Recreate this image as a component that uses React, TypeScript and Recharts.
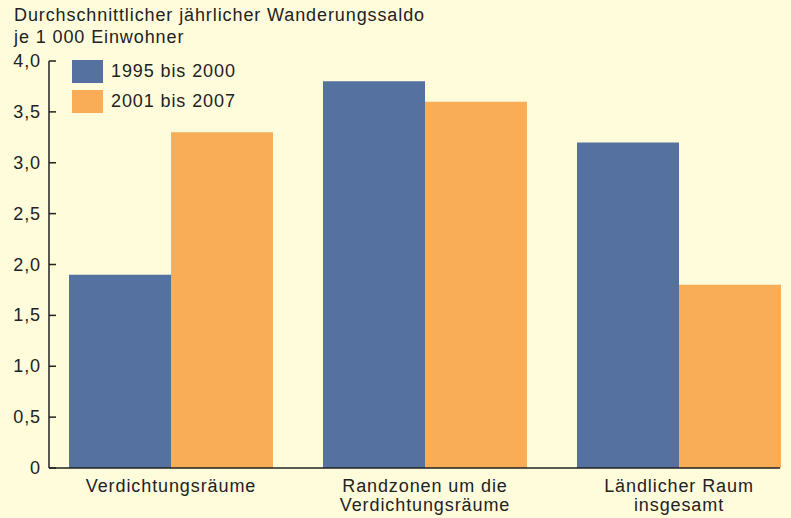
import { BarChart, Bar, XAxis, YAxis } from 'recharts';

const categories = [
  ['Verdichtungsräume'],
  ['Randzonen um die', 'Verdichtungsräume'],
  ['Ländlicher Raum', 'insgesamt'],
];
const period1 = [1.9, 3.8, 3.2];
const period2 = [3.3, 3.6, 1.8];
const yTicks = [0, 0.5, 1, 1.5, 2, 2.5, 3, 3.5, 4];
const seriesNames = ['1995 bis 2000', '2001 bis 2007'];

const BLUE = '#55719f';
const ORANGE = '#f9ad56';
const BG = '#fffcdc';
const INK = '#222222';
const FONT = '"Liberation Sans", Arial, sans-serif';
const FS = 18;
const LS = 0.9;

const data = categories.map((lines, i) => ({
  name: lines.join(' '),
  lines,
  a: period1[i],
  b: period2[i],
}));

function fmt(v: number) {
  return v === 0 ? '0' : v.toFixed(1).replace('.', ',');
}

const YTick = (props: any) => {
  const { x, y, payload } = props;
  return (
    <g>
      <line x1={x} x2={x + 7} y1={y} y2={y} stroke={INK} strokeWidth={1.5} />
      <text
        x={x - 8}
        y={y}
        dy={6}
        textAnchor="end"
        fontSize={FS}
        letterSpacing={LS}
        fill={INK}
        fontFamily={FONT}
      >
        {fmt(payload.value)}
      </text>
    </g>
  );
};

const XTick = (props: any) => {
  const { x, y, index } = props;
  const lines = categories[index] ?? [];
  return (
    <text x={x} y={y} textAnchor="middle" fontSize={FS} letterSpacing={LS} fill={INK} fontFamily={FONT}>
      {lines.map((l, i) => (
        <tspan key={i} x={x} dy={i === 0 ? 16 : 19}>
          {l}
        </tspan>
      ))}
    </text>
  );
};

export default function App() {
  return (
    <div
      style={{
        position: 'fixed',
        left: 0,
        top: 0,
        width: 791,
        height: 518,
        background: BG,
        fontFamily: FONT,
        color: INK,
      }}
    >
      <div
        style={{
          position: 'absolute',
          left: 14,
          top: 4,
          fontSize: FS,
          letterSpacing: LS,
          lineHeight: '22px',
        }}
      >
        Durchschnittlicher jährlicher Wanderungssaldo
        <br />
        je 1 000 Einwohner
      </div>
      <BarChart
        width={791}
        height={518}
        data={data}
        margin={{ top: 61, right: 11, left: 0, bottom: 0 }}
        barCategoryGap={25}
        barGap={0}
      >
        <XAxis
          dataKey="name"
          height={50}
          padding={{ left: -5, right: -26 }}
          tickLine={false}
          axisLine={{ stroke: INK, strokeWidth: 1.5 }}
          tick={<XTick />}
          interval={0}
        />
        <YAxis
          width={49}
          domain={[0, 4]}
          ticks={yTicks}
          tickLine={false}
          tickSize={0}
          tickMargin={0}
          axisLine={{ stroke: INK, strokeWidth: 1.5 }}
          tick={<YTick />}
        />
        <Bar dataKey="a" fill={BLUE} isAnimationActive={false} />
        <Bar dataKey="b" fill={ORANGE} isAnimationActive={false} />
      </BarChart>
      <div style={{ position: 'absolute', left: 72, top: 60, fontSize: FS, letterSpacing: LS }}>
        {seriesNames.map((n, i) => (
          <div key={n} style={{ display: 'flex', alignItems: 'center', height: 23, marginBottom: 7 }}>
            <div style={{ width: 31, height: 23, background: i === 0 ? BLUE : ORANGE, marginRight: 8 }} />
            <span>{n}</span>
          </div>
        ))}
      </div>
    </div>
  );
}
